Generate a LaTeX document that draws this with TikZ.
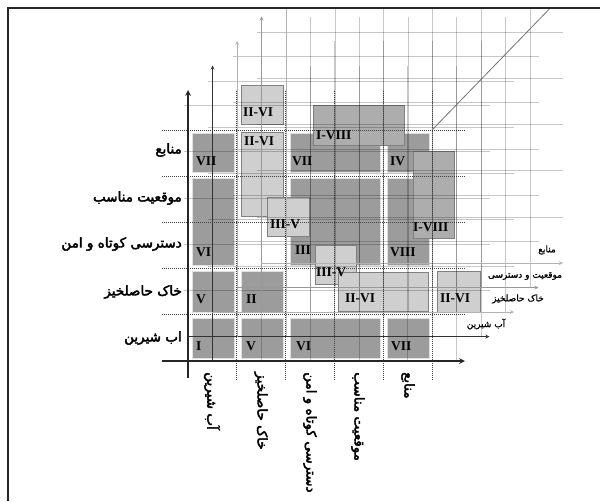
\documentclass[tikz,border=0pt]{standalone}
\usepackage{fontspec}
\setmainfont{Liberation Serif}
\newfontfamily\farsi[Script=Arabic,FakeBold=1]{DejaVu Sans}
\newfontfamily\farsibold[Script=Arabic,FakeBold=3]{DejaVu Sans}
\TeXXeTstate=1
\newcommand{\rtltext}[1]{\beginR #1\endR}
\definecolor{cellgray}{gray}{0.61}
\definecolor{boxgray}{gray}{0.81}
\definecolor{midgray}{gray}{0.68}
\definecolor{edgegray}{gray}{0.5}
\tikzset{
  cell/.style={fill=cellgray, draw=white!88!black, line width=1pt},
  lightbox/.style={fill=boxgray, draw=edgegray, line width=.9pt},
  midbox/.style={fill=midgray, draw=edgegray, line width=.9pt},
  roman/.style={font=\fontsize{13.5}{13.5}\selectfont\bfseries, inner sep=0pt, anchor=west},
  rowlabel/.style={font=\fontsize{13.5}{15}\farsibold, inner sep=0pt, anchor=east},
  collabel/.style={font=\fontsize{13.5}{15}\farsibold, inner sep=0pt, rotate=-90, anchor=west},
  planelabel/.style={font=\fontsize{9}{11}\farsi, inner sep=0pt},
  faintline/.style={black, draw opacity=.22, line width=.6pt},
  gridline/.style={black!75, line width=.9pt, dash pattern=on 1.2pt off .8pt},
}
\begin{document}
\begin{tikzpicture}[x=1pt, y=-1pt, >=stealth]
\useasboundingbox (0,0) rectangle (600,501);
\begin{scope}
\clip (8,8) rectangle (600,501);

% cells
\foreach \a/\b/\c/\d in {192/318/234/358, 241/318/283/358, 290/318/380/358, 387/318/429/358,
  192/271/234/312, 241/271/283/312,
  192/178/234/265, 290/178/380/265, 387/178/429/265,
  192/133/234/172, 290/133/380/172, 387/133/429/172}
  \draw[cell] (\a,\b) rectangle (\c,\d);

% overlays
\foreach \a/\b/\c/\d in {241/85/283/124, 241/132/283/216, 267/197/309/236,
  315/245/356/284, 338/272/428/311, 437/271/480/312}
  \draw[lightbox] (\a,\b) rectangle (\c,\d);
\foreach \a/\b/\c/\d in {313/105/404/145, 413/151/454/238}
  \draw[midbox] (\a,\b) rectangle (\c,\d);

% planes behind
\foreach \k in {1,...,4}{
  \pgfmathsetmacro{\ox}{188+24.5*\k}
  \pgfmathsetmacro{\oy}{361-24.5*\k}
  \foreach \j in {1,...,5}
    \draw[faintline] (\ox+48.8*\j,\oy+25) -- (\ox+48.8*\j,\oy-271);
  \foreach \i in {1,...,5}
    \draw[faintline] (\ox-29,\oy-46.2*\i) -- (\ox+277,\oy-46.2*\i);
}
\foreach \k/\tone in {1/black!80, 2/black!30, 3/black!40, 4/black!30}{
  \pgfmathsetmacro{\ox}{188+24.5*\k}
  \pgfmathsetmacro{\oy}{361-24.5*\k}
  \draw[->, \tone, line width=.8pt] (\ox,\oy+25) -- (\ox,\oy-271);
  \draw[->, \tone, line width=.8pt] (\ox-25,\oy) -- (\ox+277,\oy);
}

% main grid
\foreach \j in {1,...,5}
  \draw[gridline] (188+48.8*\j,380) -- (188+48.8*\j,90);
\foreach \i in {1,...,5}
  \draw[gridline] (162,361-46.2*\i) -- (465,361-46.2*\i);
\draw[black!55, line width=.8pt] (432,130) -- (560,-2);

\draw[->, line width=1.6pt, black!85] (162,361) -- (465,361);
\draw[->, line width=1.6pt, black!85] (188,378) -- (188,90);

% numerals
\foreach \x/\y/\t [count=\n] in {196/346/I, 246/346/V, 296/346/VI, 391/346/VII,
  196/299/V, 246/299/II,
  196/252/VI, 295/250/III, 390/252/VIII,
  196/161/VII, 292/161/VII, 390/161/IV,
  243/112/II-VI, 244/141/II-VI, 270/224/III-V, 316/272/III-V,
  345/298/II-VI, 440/298/II-VI, 316/135/I-VIII, 413/227/I-VIII}
  \node[roman] (r\n) at (\x,\y) {\t};

% row labels
\node[rowlabel] (row1) at (182,338) {\rtltext{اب شیرین}};
\node[rowlabel] (row2) at (182,292) {\rtltext{خاک حاصلخیز}};
\node[rowlabel] (row3) at (182,244) {\rtltext{دسترسی کوتاه و امن}};
\node[rowlabel] (row4) at (182,198) {\rtltext{موقعیت مناسب}};
\node[rowlabel] (row5) at (182,150) {\rtltext{منابع}};

% column labels
\node[collabel] (col1) at (212,372) {\rtltext{آب شیرین}};
\node[collabel] (col2) at (261,372) {\rtltext{خاک حاصلخیز}};
\node[collabel] (col3) at (310,372) {\rtltext{دسترسی کوتاه و امن}};
\node[collabel] (col4) at (358,372) {\rtltext{موقعیت مناسب}};
\node[collabel] (col5) at (408,372) {\rtltext{منابع}};

% plane labels
\node[planelabel] (p1) at (486,324) {\rtltext{آب شیرین}};
\node[planelabel] (p2) at (518,299) {\rtltext{خاک حاصلخیز}};
\node[planelabel] (p3) at (525,276) {\rtltext{موقعیت و دسترسی}};
\node[planelabel] (p4) at (547,250) {\rtltext{منابع}};
\end{scope}

\draw[line width=2.5pt, black!85] (8,501) -- (8,8) -- (600,8);
\end{tikzpicture}
\end{document}
